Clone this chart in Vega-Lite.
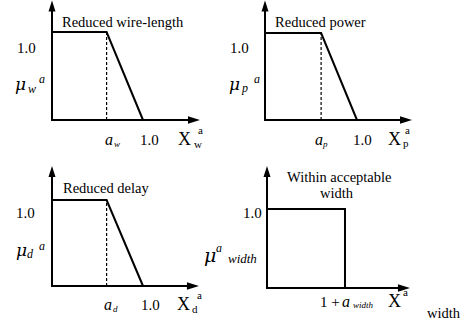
{
  "$schema": "https://vega.github.io/schema/vega-lite/v6.json",
  "padding": 0,
  "background": "white",
  "columns": 2,
  "spacing": 0,
  "bounds": "flush",
  "resolve": {"scale": {"x": "independent", "y": "independent"}},
  "config": {"view": {"stroke": null}},
  "concat": [
    {
      "width": 230, "height": 163,
      "data": {"values": [
        {"kind":"axis","u":0,"mu":0,"u2":0,"mu2":1.3},
        {"kind":"axis","u":0,"mu":0,"u2":1.55,"mu2":0},
        {"kind":"up","u":0,"mu":1.358},
        {"kind":"right","u":1.626,"mu":0},
        {"kind":"curve","i":1,"u":0,"mu":1},
        {"kind":"curve","i":2,"u":0.6,"mu":1},
        {"kind":"curve","i":3,"u":1,"mu":0},
        {"kind":"dash","u":0.6,"mu":0,"u2":0.6,"mu2":1},
        {"kind":"title","u":0.110,"mu":1.057,"text":"Reduced wire-length"},
        {"kind":"num","u":-0.385,"mu":0.761,"text":"1.0"},
        {"kind":"mu","u":-0.407,"mu":0.341,"text":"μ"},
        {"kind":"isub","u":-0.264,"mu":0.307,"text":"w"},
        {"kind":"isub","u":-0.143,"mu":0.420,"text":"a"},
        {"kind":"ia","u":0.582,"mu":-0.284,"text":"a"},
        {"kind":"ismall","u":0.681,"mu":-0.307,"text":"w"},
        {"kind":"num","u":0.967,"mu":-0.284,"text":"1.0"},
        {"kind":"X","u":1.385,"mu":-0.284,"text":"X"},
        {"kind":"xs","u":1.560,"mu":-0.318,"text":"w"},
        {"kind":"xs","u":1.604,"mu":-0.159,"text":"a"}
      ]},
      "encoding": {
        "x": {"field":"u","type":"quantitative","scale":{"domain":[-0.5714,1.956],"nice":false,"zero":false},"axis":null},
        "y": {"field":"mu","type":"quantitative","scale":{"domain":[-0.4886,1.3636],"nice":false,"zero":false},"axis":null}
      },
      "layer": [
        {"transform":[{"filter":"datum.kind==='axis'"}],"mark":{"type":"rule","stroke":"black","strokeWidth":2,"strokeCap":"square"},"encoding":{"x2":{"field":"u2"},"y2":{"field":"mu2"}}},
        {"transform":[{"filter":"datum.kind==='dash'"}],"mark":{"type":"rule","stroke":"black","strokeWidth":1.2,"strokeDash":[3,2]},"encoding":{"x2":{"field":"u2"},"y2":{"field":"mu2"}}},
        {"transform":[{"filter":"datum.kind==='curve'"}],"mark":{"type":"line","stroke":"black","strokeWidth":2,"strokeJoin":"miter"},"encoding":{"order":{"field":"i","type":"quantitative"}}},
        {"transform":[{"filter":"datum.kind==='up'"}],"mark":{"type":"point","shape":"M0,0L-0.7,2.2L0.7,2.2Z","size":100,"filled":true,"fill":"black","opacity":1,"strokeWidth":0}},
        {"transform":[{"filter":"datum.kind==='right'"}],"mark":{"type":"point","shape":"M0,0L-0.75,2.4L0.75,2.4Z","size":100,"angle":90,"filled":true,"fill":"black","opacity":1,"strokeWidth":0}},
        {"transform":[{"filter":"indexof(['title','num','X','xs'], datum.kind) >= 0"}],"mark":{"type":"text","font":"Liberation Serif","align":"left","baseline":"alphabetic","fill":"black"},"encoding":{"text":{"field":"text"},"size":{"field":"kind","type":"nominal","scale":{"type":"ordinal","domain":["title","num","X","xs","mu","mubig","ia","isub","ismall","imid"],"range":[14.5,15,18,11,17,19,16,12,9,13]},"legend":null}}},
        {"transform":[{"filter":"indexof(['ia','isub','ismall','imid'], datum.kind) >= 0"}],"mark":{"type":"text","font":"Liberation Serif","fontStyle":"italic","align":"left","baseline":"alphabetic","fill":"black"},"encoding":{"text":{"field":"text"},"size":{"field":"kind","type":"nominal","scale":{"type":"ordinal","domain":["title","num","X","xs","mu","mubig","ia","isub","ismall","imid"],"range":[14.5,15,18,11,17,19,16,12,9,13]},"legend":null}}},
        {"transform":[{"filter":"indexof(['mu','mubig'], datum.kind) >= 0"}],"mark":{"type":"text","font":"DejaVu Serif","fontStyle":"italic","align":"left","baseline":"alphabetic","fill":"black"},"encoding":{"text":{"field":"text"},"size":{"field":"kind","type":"nominal","scale":{"type":"ordinal","domain":["title","num","X","xs","mu","mubig","ia","isub","ismall","imid"],"range":[14.5,15,18,11,17,19,16,12,9,13]},"legend":null}}}
      ]
    },
    {
      "width": 230, "height": 163,
      "data": {"values": [
        {"kind":"axis","u":0,"mu":0,"u2":0,"mu2":1.3},
        {"kind":"axis","u":0,"mu":0,"u2":1.53,"mu2":0},
        {"kind":"up","u":0,"mu":1.374},
        {"kind":"right","u":1.598,"mu":0},
        {"kind":"curve","i":1,"u":0,"mu":1},
        {"kind":"curve","i":2,"u":0.61,"mu":1},
        {"kind":"curve","i":3,"u":1,"mu":0},
        {"kind":"dash","u":0.61,"mu":0,"u2":0.61,"mu2":1},
        {"kind":"title","u":0.109,"mu":1.069,"text":"Reduced power"},
        {"kind":"num","u":-0.380,"mu":0.770,"text":"1.0"},
        {"kind":"mu","u":-0.391,"mu":0.345,"text":"μ"},
        {"kind":"isub","u":-0.25,"mu":0.322,"text":"p"},
        {"kind":"isub","u":-0.12,"mu":0.425,"text":"a"},
        {"kind":"ia","u":0.543,"mu":-0.287,"text":"a"},
        {"kind":"ismall","u":0.630,"mu":-0.310,"text":"p"},
        {"kind":"num","u":0.957,"mu":-0.287,"text":"1.0"},
        {"kind":"X","u":1.337,"mu":-0.287,"text":"X"},
        {"kind":"xs","u":1.500,"mu":-0.310,"text":"p"},
        {"kind":"xs","u":1.522,"mu":-0.161,"text":"a"}
      ]},
      "encoding": {
        "x": {"field":"u","type":"quantitative","scale":{"domain":[-0.3804,2.1196],"nice":false,"zero":false},"axis":null},
        "y": {"field":"mu","type":"quantitative","scale":{"domain":[-0.4943,1.3793],"nice":false,"zero":false},"axis":null}
      },
      "layer": [
        {"transform":[{"filter":"datum.kind==='axis'"}],"mark":{"type":"rule","stroke":"black","strokeWidth":2,"strokeCap":"square"},"encoding":{"x2":{"field":"u2"},"y2":{"field":"mu2"}}},
        {"transform":[{"filter":"datum.kind==='dash'"}],"mark":{"type":"rule","stroke":"black","strokeWidth":1.2,"strokeDash":[3,2]},"encoding":{"x2":{"field":"u2"},"y2":{"field":"mu2"}}},
        {"transform":[{"filter":"datum.kind==='curve'"}],"mark":{"type":"line","stroke":"black","strokeWidth":2,"strokeJoin":"miter"},"encoding":{"order":{"field":"i","type":"quantitative"}}},
        {"transform":[{"filter":"datum.kind==='up'"}],"mark":{"type":"point","shape":"M0,0L-0.7,2.2L0.7,2.2Z","size":100,"filled":true,"fill":"black","opacity":1,"strokeWidth":0}},
        {"transform":[{"filter":"datum.kind==='right'"}],"mark":{"type":"point","shape":"M0,0L-0.75,2.4L0.75,2.4Z","size":100,"angle":90,"filled":true,"fill":"black","opacity":1,"strokeWidth":0}},
        {"transform":[{"filter":"indexof(['title','num','X','xs'], datum.kind) >= 0"}],"mark":{"type":"text","font":"Liberation Serif","align":"left","baseline":"alphabetic","fill":"black"},"encoding":{"text":{"field":"text"},"size":{"field":"kind","type":"nominal","scale":{"type":"ordinal","domain":["title","num","X","xs","mu","mubig","ia","isub","ismall","imid"],"range":[14.5,15,18,11,17,19,16,12,9,13]},"legend":null}}},
        {"transform":[{"filter":"indexof(['ia','isub','ismall','imid'], datum.kind) >= 0"}],"mark":{"type":"text","font":"Liberation Serif","fontStyle":"italic","align":"left","baseline":"alphabetic","fill":"black"},"encoding":{"text":{"field":"text"},"size":{"field":"kind","type":"nominal","scale":{"type":"ordinal","domain":["title","num","X","xs","mu","mubig","ia","isub","ismall","imid"],"range":[14.5,15,18,11,17,19,16,12,9,13]},"legend":null}}},
        {"transform":[{"filter":"indexof(['mu','mubig'], datum.kind) >= 0"}],"mark":{"type":"text","font":"DejaVu Serif","fontStyle":"italic","align":"left","baseline":"alphabetic","fill":"black"},"encoding":{"text":{"field":"text"},"size":{"field":"kind","type":"nominal","scale":{"type":"ordinal","domain":["title","num","X","xs","mu","mubig","ia","isub","ismall","imid"],"range":[14.5,15,18,11,17,19,16,12,9,13]},"legend":null}}}
      ]
    },
    {
      "width": 230, "height": 163,
      "data": {"values": [
        {"kind":"axis","u":0,"mu":0,"u2":0,"mu2":1.35},
        {"kind":"axis","u":0,"mu":0,"u2":1.55,"mu2":0},
        {"kind":"up","u":0,"mu":1.395},
        {"kind":"right","u":1.615,"mu":0},
        {"kind":"curve","i":1,"u":0,"mu":1},
        {"kind":"curve","i":2,"u":0.6,"mu":1},
        {"kind":"curve","i":3,"u":1,"mu":0},
        {"kind":"dash","u":0.6,"mu":0,"u2":0.6,"mu2":1},
        {"kind":"title","u":0.121,"mu":1.081,"text":"Reduced delay"},
        {"kind":"num","u":-0.396,"mu":0.791,"text":"1.0"},
        {"kind":"mu","u":-0.396,"mu":0.349,"text":"μ"},
        {"kind":"isub","u":-0.275,"mu":0.326,"text":"d"},
        {"kind":"isub","u":-0.143,"mu":0.419,"text":"a"},
        {"kind":"ia","u":0.571,"mu":-0.279,"text":"a"},
        {"kind":"ismall","u":0.670,"mu":-0.302,"text":"d"},
        {"kind":"num","u":0.978,"mu":-0.279,"text":"1.0"},
        {"kind":"X","u":1.374,"mu":-0.279,"text":"X"},
        {"kind":"xs","u":1.538,"mu":-0.314,"text":"d"},
        {"kind":"xs","u":1.593,"mu":-0.151,"text":"a"}
      ]},
      "encoding": {
        "x": {"field":"u","type":"quantitative","scale":{"domain":[-0.5714,1.956],"nice":false,"zero":false},"axis":null},
        "y": {"field":"mu","type":"quantitative","scale":{"domain":[-0.4651,1.4302],"nice":false,"zero":false},"axis":null}
      },
      "layer": [
        {"transform":[{"filter":"datum.kind==='axis'"}],"mark":{"type":"rule","stroke":"black","strokeWidth":2,"strokeCap":"square"},"encoding":{"x2":{"field":"u2"},"y2":{"field":"mu2"}}},
        {"transform":[{"filter":"datum.kind==='dash'"}],"mark":{"type":"rule","stroke":"black","strokeWidth":1.2,"strokeDash":[3,2]},"encoding":{"x2":{"field":"u2"},"y2":{"field":"mu2"}}},
        {"transform":[{"filter":"datum.kind==='curve'"}],"mark":{"type":"line","stroke":"black","strokeWidth":2,"strokeJoin":"miter"},"encoding":{"order":{"field":"i","type":"quantitative"}}},
        {"transform":[{"filter":"datum.kind==='up'"}],"mark":{"type":"point","shape":"M0,0L-0.7,2.2L0.7,2.2Z","size":100,"filled":true,"fill":"black","opacity":1,"strokeWidth":0}},
        {"transform":[{"filter":"datum.kind==='right'"}],"mark":{"type":"point","shape":"M0,0L-0.75,2.4L0.75,2.4Z","size":100,"angle":90,"filled":true,"fill":"black","opacity":1,"strokeWidth":0}},
        {"transform":[{"filter":"indexof(['title','num','X','xs'], datum.kind) >= 0"}],"mark":{"type":"text","font":"Liberation Serif","align":"left","baseline":"alphabetic","fill":"black"},"encoding":{"text":{"field":"text"},"size":{"field":"kind","type":"nominal","scale":{"type":"ordinal","domain":["title","num","X","xs","mu","mubig","ia","isub","ismall","imid"],"range":[14.5,15,18,11,17,19,16,12,9,13]},"legend":null}}},
        {"transform":[{"filter":"indexof(['ia','isub','ismall','imid'], datum.kind) >= 0"}],"mark":{"type":"text","font":"Liberation Serif","fontStyle":"italic","align":"left","baseline":"alphabetic","fill":"black"},"encoding":{"text":{"field":"text"},"size":{"field":"kind","type":"nominal","scale":{"type":"ordinal","domain":["title","num","X","xs","mu","mubig","ia","isub","ismall","imid"],"range":[14.5,15,18,11,17,19,16,12,9,13]},"legend":null}}},
        {"transform":[{"filter":"indexof(['mu','mubig'], datum.kind) >= 0"}],"mark":{"type":"text","font":"DejaVu Serif","fontStyle":"italic","align":"left","baseline":"alphabetic","fill":"black"},"encoding":{"text":{"field":"text"},"size":{"field":"kind","type":"nominal","scale":{"type":"ordinal","domain":["title","num","X","xs","mu","mubig","ia","isub","ismall","imid"],"range":[14.5,15,18,11,17,19,16,12,9,13]},"legend":null}}}
      ]
    },
    {
      "width": 230, "height": 163,
      "data": {"values": [
        {"kind":"axis","u":0,"mu":0,"u2":0,"mu2":1.45},
        {"kind":"axis","u":0,"mu":0,"u2":1.45,"mu2":0},
        {"kind":"up","u":0,"mu":1.544},
        {"kind":"right","u":1.571,"mu":0},
        {"kind":"curve","i":1,"u":0,"mu":1},
        {"kind":"curve","i":2,"u":0.857,"mu":1},
        {"kind":"curve","i":3,"u":0.857,"mu":0},
        {"kind":"title","u":0.220,"mu":1.342,"text":"Within acceptable"},
        {"kind":"title","u":0.582,"mu":1.139,"text":"width"},
        {"kind":"num","u":-0.264,"mu":0.886,"text":"1.0"},
        {"kind":"mubig","u":-0.692,"mu":0.329,"text":"μ"},
        {"kind":"isub","u":-0.560,"mu":0.456,"text":"a"},
        {"kind":"imid","u":-0.429,"mu":0.316,"text":"width"},
        {"kind":"num","u":0.582,"mu":-0.241,"text":"1 +"},
        {"kind":"ia","u":0.824,"mu":-0.241,"text":"a"},
        {"kind":"ismall","u":0.945,"mu":-0.253,"text":"width"},
        {"kind":"X","u":1.330,"mu":-0.241,"text":"X"},
        {"kind":"xs","u":1.495,"mu":-0.101,"text":"a"},
        {"kind":"title","u":1.758,"mu":-0.380,"text":"width"}
      ]},
      "encoding": {
        "x": {"field":"u","type":"quantitative","scale":{"domain":[-0.4066,2.1209],"nice":false,"zero":false},"axis":null},
        "y": {"field":"mu","type":"quantitative","scale":{"domain":[-0.481,1.5823],"nice":false,"zero":false},"axis":null}
      },
      "layer": [
        {"transform":[{"filter":"datum.kind==='axis'"}],"mark":{"type":"rule","stroke":"black","strokeWidth":2,"strokeCap":"square"},"encoding":{"x2":{"field":"u2"},"y2":{"field":"mu2"}}},
        {"transform":[{"filter":"datum.kind==='curve'"}],"mark":{"type":"line","stroke":"black","strokeWidth":2,"strokeJoin":"miter"},"encoding":{"order":{"field":"i","type":"quantitative"}}},
        {"transform":[{"filter":"datum.kind==='up'"}],"mark":{"type":"point","shape":"M0,0L-0.7,2.2L0.7,2.2Z","size":100,"filled":true,"fill":"black","opacity":1,"strokeWidth":0}},
        {"transform":[{"filter":"datum.kind==='right'"}],"mark":{"type":"point","shape":"M0,0L-0.75,2.4L0.75,2.4Z","size":100,"angle":90,"filled":true,"fill":"black","opacity":1,"strokeWidth":0}},
        {"transform":[{"filter":"indexof(['title','num','X','xs'], datum.kind) >= 0"}],"mark":{"type":"text","font":"Liberation Serif","align":"left","baseline":"alphabetic","fill":"black"},"encoding":{"text":{"field":"text"},"size":{"field":"kind","type":"nominal","scale":{"type":"ordinal","domain":["title","num","X","xs","mu","mubig","ia","isub","ismall","imid"],"range":[14.5,15,18,11,17,19,16,12,9,13]},"legend":null}}},
        {"transform":[{"filter":"indexof(['ia','isub','ismall','imid'], datum.kind) >= 0"}],"mark":{"type":"text","font":"Liberation Serif","fontStyle":"italic","align":"left","baseline":"alphabetic","fill":"black"},"encoding":{"text":{"field":"text"},"size":{"field":"kind","type":"nominal","scale":{"type":"ordinal","domain":["title","num","X","xs","mu","mubig","ia","isub","ismall","imid"],"range":[14.5,15,18,11,17,19,16,12,9,13]},"legend":null}}},
        {"transform":[{"filter":"indexof(['mu','mubig'], datum.kind) >= 0"}],"mark":{"type":"text","font":"DejaVu Serif","fontStyle":"italic","align":"left","baseline":"alphabetic","fill":"black"},"encoding":{"text":{"field":"text"},"size":{"field":"kind","type":"nominal","scale":{"type":"ordinal","domain":["title","num","X","xs","mu","mubig","ia","isub","ismall","imid"],"range":[14.5,15,18,11,17,19,16,12,9,13]},"legend":null}}}
      ]
    }
  ]
}
